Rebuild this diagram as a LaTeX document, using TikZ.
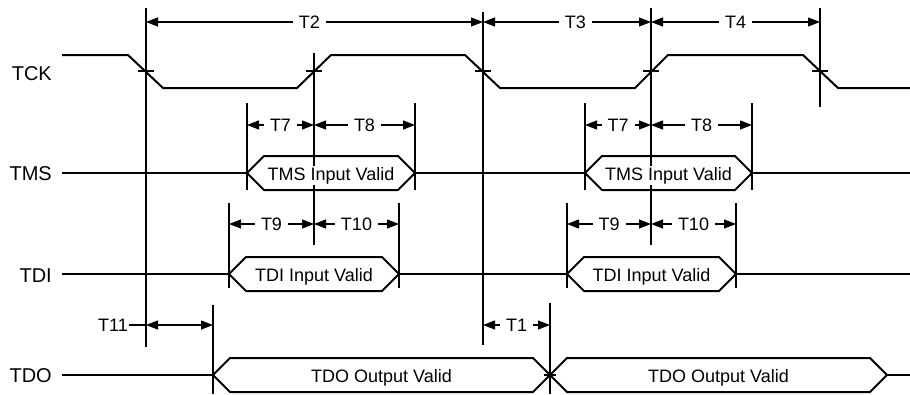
\documentclass[tikz,border=0pt]{standalone}
\usepackage{fontspec}
\setmainfont{Liberation Sans}
\usetikzlibrary{arrows.meta}

\begin{document}
\begin{tikzpicture}[x=1pt,y=-1pt,
  wave/.style={line width=2pt,line join=miter},
  guide/.style={line width=1.1pt},
  dim/.style={line width=1.1pt,{Triangle[length=12pt,width=9pt]}-{Triangle[length=12pt,width=9pt]}},
  tlabel/.style={fill=white,inner xsep=6pt,inner ysep=1pt,font=\fontsize{18}{18}\selectfont},
  sig/.style={anchor=base east,inner sep=0pt,font=\fontsize{20}{20}\selectfont},
  boxtext/.style={anchor=base,fill=white,inner sep=1pt,font=\fontsize{18}{18}\selectfont}]
\useasboundingbox (0,0) rectangle (910,394);

% signal names
\node[sig] (tck) at (52,80) {TCK};
\node[sig] (tms) at (52,180) {TMS};
\node[sig] (tdi) at (52,282) {TDI};
\node[sig] (tdo) at (52,382) {TDO};

% clock
\draw[wave] (62,55) -- (128,55) -- (163,88) -- (297,88) -- (331,55) -- (465,55) -- (500,88)
  -- (635,88) -- (668,55) -- (803,55) -- (838,88) -- (910,88);

% idle levels
\draw[wave] (62,173) -- (247,173) (415,173) -- (585,173) (752,173) -- (910,173);
\draw[wave] (62,274) -- (229,274) (399,274) -- (567,274) (736,274) -- (910,274);
\draw[wave] (62,375) -- (213,375) (887,375) -- (910,375);

% reference lines
\draw[guide] (146,8) -- (146,347);
\draw[guide] (314,53) -- (314,245);
\draw[guide] (483,12) -- (483,345);
\draw[guide] (651,8) -- (651,245);
\draw[guide] (820,8) -- (820,107);
\foreach \x in {247,415,585,752} \draw[guide] (\x,103) -- (\x,190);
\foreach \x in {229,399,567,736} \draw[guide] (\x,203) -- (\x,288);
\draw[guide] (213,305) -- (213,394);
\draw[guide] (550,303) -- (550,394);

% valid windows
\foreach \a/\b/\y/\txt in {247/415/173/TMS Input Valid, 585/752/173/TMS Input Valid,
    229/399/274/TDI Input Valid, 567/736/274/TDI Input Valid,
    213/550/375/TDO Output Valid, 550/887/375/TDO Output Valid}
{
  \draw[wave] (\a,\y) -- ({\a+17},{\y-17}) -- ({\b-17},{\y-17}) -- (\b,\y)
    -- ({\b-17},{\y+17}) -- ({\a+17},{\y+17}) -- cycle;
  \node[boxtext] (v-\a) at ({(\a+\b)/2},{\y+7}) {\txt};
}

% crossing ticks
\foreach \x in {146,314,483,651,820} \draw[guide] (\x-8,71) -- (\x+8,71);
\draw[guide] (544,375) -- (556,375);

% timing arrows
\draw[dim] (146,22) -- node[tlabel,pos=0.485] (t2) {T2} (483,22);
\draw[dim] (483,22) -- node[tlabel,pos=0.55] (t3) {T3} (651,22);
\draw[dim] (651,22) -- node[tlabel] (t4) {T4} (820,22);
\draw[dim] (247,125) -- node[tlabel] (t7a) {T7} (314,125);
\draw[dim] (314,125) -- node[tlabel] (t8a) {T8} (415,125);
\draw[dim] (585,125) -- node[tlabel] (t7b) {T7} (651,125);
\draw[dim] (651,125) -- node[tlabel] (t8b) {T8} (752,125);
\draw[dim] (229,224) -- node[tlabel] (t9a) {T9} (314,224);
\draw[dim] (314,224) -- node[tlabel] (t10a) {T10} (399,224);
\draw[dim] (567,224) -- node[tlabel] (t9b) {T9} (651,224);
\draw[dim] (651,224) -- node[tlabel] (t10b) {T10} (736,224);
\node[tlabel,anchor=east,inner xsep=1pt] (t11) at (129,325) {T11};
\draw[guide] (t11.east) -- (146,325);
\draw[dim] (146,325) -- (213,325);
\draw[dim] (483,325) -- node[tlabel] (t1) {T1} (550,325);
\end{tikzpicture}
\end{document}
